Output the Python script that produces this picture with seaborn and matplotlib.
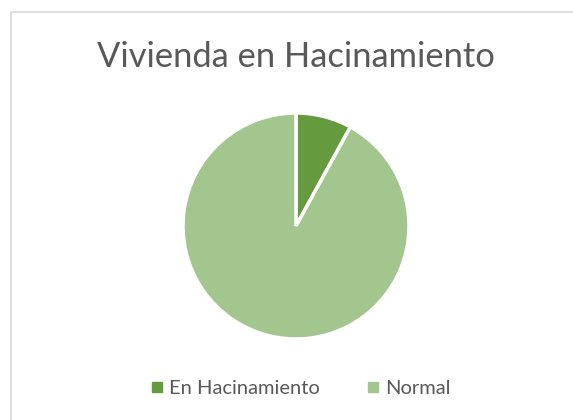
import matplotlib
matplotlib.use('Agg')
import matplotlib.pyplot as plt
import seaborn as sns
from matplotlib.lines import Line2D

categorias = ['En Hacinamiento', 'Normal']
valores = [8, 92]
colores = ['#659B3E', '#A3C58E']

sns.set_theme(style='white')
plt.rcParams['font.family'] = ['Lato', 'DejaVu Sans']

fig = plt.figure(figsize=(5.73, 4.20), dpi=100)

# borde del gráfico (solo arriba e izquierda, está recortado)
fig.add_artist(Line2D([11/573, 1], [1 - 12/420, 1 - 12/420], color='#D9D9D9', lw=1.2))
fig.add_artist(Line2D([11/573, 11/573], [0, 1 - 12/420], color='#D9D9D9', lw=1.2))

ax = fig.add_axes([183/573, 81/420, 226/573, 226/420])
ax.pie(valores, colors=colores, startangle=90, counterclock=False,
       wedgeprops=dict(edgecolor='white', linewidth=2.5))
ax.set_xlim(-1, 1)
ax.set_ylim(-1, 1)
ax.set_aspect('equal')

fig.text(296/573, 1 - 57/420, 'Vivienda en Hacinamiento', ha='center', va='center',
         fontsize=24.8, color='#595959')

handles = [Line2D([], [], marker='s', linestyle='', markersize=7, color=c) for c in colores]
fig.legend(handles, categorias, loc='center', bbox_to_anchor=(300/573, 1 - 388/420),
           ncol=2, frameon=False, fontsize=14.5, labelcolor='#595959',
           handletextpad=0.25, columnspacing=2.3, handlelength=0.7)

fig.savefig('out.png', dpi=100, facecolor='white')
